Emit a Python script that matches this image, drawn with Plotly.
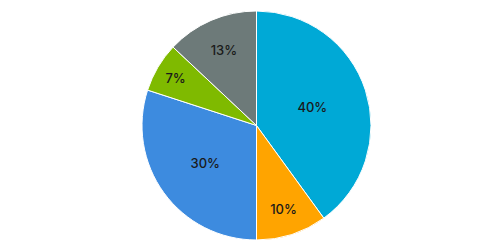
import plotly.graph_objects as go

labels = ["A", "B", "C", "D", "E"]
values = [40, 10, 30, 7, 13]
colors = ["#00A9D6", "#FFA400", "#3D8BDF", "#7FBA00", "#6D7A79"]

fig = go.Figure(go.Pie(
    labels=labels,
    values=values,
    sort=False,
    direction="clockwise",
    rotation=0,
    marker=dict(colors=colors, line=dict(color="white", width=1)),
    texttemplate="%{value}%",
    textposition="inside",
    insidetextorientation="horizontal",
    textfont=dict(family="Inter, DejaVu Sans, sans-serif", size=13, color="#1a1a1a", weight=500),
    hoverinfo="none",
    showlegend=False,
))
fig.update_layout(
    width=500, height=250,
    margin=dict(l=13, r=0, t=11, b=10),
    paper_bgcolor="white",
    plot_bgcolor="white",
)
fig.write_html("out.html")
